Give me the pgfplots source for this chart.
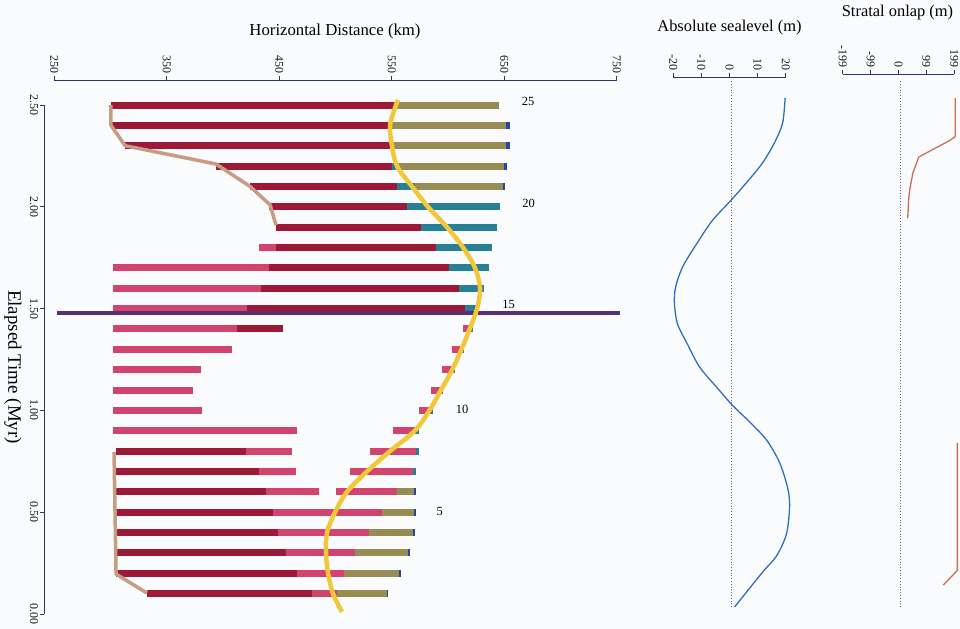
\documentclass[border=0pt]{standalone}
\usepackage{fontspec}
\setmainfont{Liberation Serif}
\usepackage{pgfplots}
\pgfplotsset{compat=1.18}
\usepackage{pgfplotstable}

\definecolor{bardark}{RGB}{158,24,56}
\definecolor{barpink}{RGB}{210,68,110}
\definecolor{barolive}{RGB}{150,140,84}
\definecolor{barteal}{RGB}{40,128,150}
\definecolor{barblue}{RGB}{38,70,160}
\definecolor{shoreline}{RGB}{198,156,130}
\definecolor{wave}{RGB}{242,200,58}
\definecolor{marker}{RGB}{88,46,118}
\definecolor{sealine}{RGB}{46,112,190}
\definecolor{onlapline}{RGB}{200,112,84}
\definecolor{axisblue}{RGB}{50,50,110}
\definecolor{zerodot}{RGB}{110,90,170}
\definecolor{paper}{RGB}{250,251,253}

% Bar pieces for each facies: start and end (km) at each time step (Myr),
% one piece per pair of rows, pieces separated by nan rows
\pgfplotstableread{
x t
300.4 2.5
553 2.5
nan nan
300.4 2.4
550 2.4
nan nan
313 2.3
551 2.3
nan nan
394 2.2
550 2.2
nan nan
424 2.1
555 2.1
nan nan
441 2.0
564 2.0
nan nan
447 1.9
576 1.9
nan nan
447 1.8
589 1.8
nan nan
441 1.7
601 1.7
nan nan
434 1.6
610 1.6
nan nan
421 1.5
615 1.5
nan nan
412 1.4
453 1.4
nan nan
305 0.8
420 0.8
nan nan
305 0.7
432 0.7
nan nan
305 0.6
438 0.6
nan nan
305 0.5
444 0.5
nan nan
305 0.4
449 0.4
nan nan
305 0.3
456 0.3
nan nan
305 0.2
466 0.2
nan nan
332 0.1
479 0.1
}\darkpieces

\pgfplotstableread{
x t
432 1.8
447 1.8
nan nan
302 1.7
441 1.7
nan nan
302 1.6
434 1.6
nan nan
302 1.5
421 1.5
nan nan
302 1.4
412 1.4
nan nan
613 1.4
618 1.4
nan nan
302 1.3
408 1.3
nan nan
604 1.3
611 1.3
nan nan
302 1.2
380 1.2
nan nan
595 1.2
603 1.2
nan nan
302 1.1
373 1.1
nan nan
585 1.1
593 1.1
nan nan
302 1.0
381 1.0
nan nan
574.5 1.0
583 1.0
nan nan
302 0.9
466 0.9
nan nan
551 0.9
571 0.9
nan nan
420 0.8
461 0.8
nan nan
531 0.8
572 0.8
nan nan
432 0.7
465 0.7
nan nan
513 0.7
569 0.7
nan nan
438 0.6
485 0.6
nan nan
500 0.6
555 0.6
nan nan
444 0.5
541 0.5
nan nan
449 0.4
530 0.4
nan nan
456 0.3
517 0.3
nan nan
466 0.2
507.5 0.2
nan nan
479 0.1
501 0.1
}\pinkpieces

\pgfplotstableread{
x t
553 2.5
645.4 2.5
nan nan
550 2.4
652 2.4
nan nan
551 2.3
652 2.3
nan nan
555 2.2
650 2.2
nan nan
571 2.1
649 2.1
nan nan
555 0.6
571 0.6
nan nan
541 0.5
571 0.5
nan nan
530 0.4
569 0.4
nan nan
517 0.3
565 0.3
nan nan
507.5 0.2
557 0.2
nan nan
501 0.1
546 0.1
}\olivepieces

\pgfplotstableread{
x t
550 2.2
555 2.2
nan nan
555 2.1
571 2.1
nan nan
564 2.0
646 2.0
nan nan
576 1.9
644 1.9
nan nan
589 1.8
639 1.8
nan nan
601 1.7
636.5 1.7
nan nan
610 1.6
632 1.6
nan nan
615 1.5
628 1.5
nan nan
618 1.4
622 1.4
nan nan
611 1.3
614 1.3
nan nan
603 1.2
606 1.2
nan nan
593 1.1
596 1.1
nan nan
583 1.0
587 1.0
nan nan
571 0.9
574 0.9
nan nan
572 0.8
574 0.8
nan nan
569 0.7
572 0.7
}\tealpieces

\pgfplotstableread{
x t
652 2.4
655 2.4
nan nan
652 2.3
655 2.3
nan nan
650 2.2
652.5 2.2
nan nan
649 2.1
651 2.1
nan nan
570 0.6
572 0.6
nan nan
570 0.5
572 0.5
nan nan
568.5 0.4
570.5 0.4
nan nan
564.5 0.3
566.5 0.3
nan nan
556.5 0.2
558 0.2
nan nan
545.5 0.1
547 0.1
}\bluepieces

\pgfplotsset{
  panel/.style={
    scale only axis, clip=false,
    axis x line*=top,
    tick align=outside, major tick length=4bp,
    axis line style={axisblue, line width=0.7bp},
    tick style={axisblue, line width=0.7bp},
    ticklabel style={font=\fontsize{12}{13}\selectfont, text=black!90, inner sep=2bp},
    xticklabel style={rotate=-90, anchor=east},
  },
}

\begin{document}
\begin{tikzpicture}
\useasboundingbox (0bp,0bp) rectangle (960bp,-629bp);
\fill[paper] (0bp,0bp) rectangle (960bp,-629bp);

% ---------------- distance panel ----------------
\begin{axis}[panel,
  at={(54.3bp,-614bp)}, anchor=south west,
  width=562.4bp, height=509bp,
  xmin=250, xmax=750, ymin=0, ymax=2.5,
  axis y line*=left,
  axis x line shift=25bp, axis y line shift=10bp,
  xtick={250,350,450,550,650,750},
  xticklabels={250,350,450,550,650,750},
  ytick={0,0.5,1,1.5,2,2.5},
  yticklabels={0.00,0.50,1.00,1.50,2.00,2.50},
  yticklabel style={rotate=-90, anchor=north},
]
\addplot[bardark, line width=7bp, unbounded coords=jump] table[x=x, y=t] {\darkpieces};
\addplot[barpink, line width=7bp, unbounded coords=jump] table[x=x, y=t] {\pinkpieces};
\addplot[barolive, line width=7bp, unbounded coords=jump] table[x=x, y=t] {\olivepieces};
\addplot[barteal, line width=7bp, unbounded coords=jump] table[x=x, y=t] {\tealpieces};
\addplot[barblue, line width=7bp, unbounded coords=jump] table[x=x, y=t] {\bluepieces};

% marker line at 1.48 Myr
\addplot[marker, line width=3.2bp] coordinates {(252.4,1.478) (752.7,1.478)};

% shoreline trajectory
\addplot[shoreline, line width=3.5bp, line join=round] coordinates {
  (300.4,2.5) (300.4,2.40) (313,2.30) (393.8,2.21) (424,2.10) (441.8,2.01) (447.1,1.91)};
\addplot[shoreline, line width=3.5bp, line join=round] coordinates {
  (332.4,0.103) (304.9,0.196) (303.1,0.796)};

% depositional front
\addplot[wave, line width=4.5bp, smooth, tension=0.55] coordinates {
  (555.6,2.525) (553.8,2.5) (548.5,2.4) (550.2,2.3) (554.7,2.2) (568,2.1)
  (582.2,2.0) (599.1,1.9) (613.4,1.8) (624,1.7) (628.5,1.6) (625.9,1.5)
  (619.3,1.4) (612,1.3) (603.8,1.2) (593.8,1.1) (583.5,1.0) (570.5,0.9)
  (548.5,0.8) (528,0.7) (510.2,0.6) (499.6,0.5) (492.5,0.4) (491.6,0.3)
  (493.4,0.2) (497.8,0.1) (505.8,0.01)};

\node[font=\fontsize{12.5}{13}\selectfont] at (axis cs:671.2,2.517) {25};
\node[font=\fontsize{12.5}{13}\selectfont] at (axis cs:671.6,2.019) {20};
\node[font=\fontsize{12.5}{13}\selectfont] at (axis cs:654,1.518) {15};
\node[font=\fontsize{12.5}{13}\selectfont] at (axis cs:612.5,1.007) {10};
\node[font=\fontsize{12.5}{13}\selectfont] at (axis cs:592.7,0.506) {5};
\end{axis}

% ---------------- sea-level panel ----------------
\begin{axis}[panel,
  at={(673.3bp,-607bp)}, anchor=south west,
  width=112.4bp, height=509bp,
  xmin=-20, xmax=20, ymin=0, ymax=2.5,
  axis y line=none,
  axis x line shift=21bp,
  xtick={-20,-10,0,10,20},
  xticklabels={-20,-10,0,10,20},
]
\addplot[zerodot, line width=0.8bp, dotted] coordinates {(0.8,0) (0.8,2.588)};
\addplot[sealine, line width=1.3bp, smooth, tension=0.5] coordinates {
  (19.8,2.5) (18.9,2.377) (16.0,2.28) (11.7,2.18) (6.4,2.09) (0.7,2.0)
  (-6.0,1.90) (-11.4,1.79) (-16.7,1.67) (-19.2,1.57) (-19.6,1.49)
  (-18.5,1.39) (-15.3,1.30) (-10.7,1.18) (-4.6,1.08) (1.1,0.99)
  (7.1,0.91) (13.2,0.82) (17.8,0.71) (20.6,0.59) (21.4,0.50)
  (20.3,0.36) (16.7,0.25) (11.7,0.17) (1.8,0.0)};
\end{axis}

% ---------------- onlap panel ----------------
\begin{axis}[panel,
  at={(842.7bp,-607bp)}, anchor=south west,
  width=111.6bp, height=509bp,
  xmin=-199, xmax=199, ymin=0, ymax=2.5,
  axis y line=none,
  axis x line shift=24bp,
  xtick={-199,-99,0,99,199},
  xticklabels={-199,-99,0,99,199},
]
\addplot[zerodot, line width=0.8bp, dotted] coordinates {(5,0) (5,2.588)};
\addplot[onlapline, line width=1.3bp, line join=round] coordinates {
  (202,2.5) (202,2.31) (181,2.29) (72,2.21) (51,2.13) (40,2.05) (36,2.0) (33,1.91)};
\addplot[onlapline, line width=1.3bp, line join=round] coordinates {
  (210,0.806) (210,0.18) (160,0.108)};
\end{axis}

% ---------------- titles ----------------
\node[anchor=base, font=\fontsize{16.8}{18}\selectfont] at (335bp,-35bp) {Horizontal Distance (km)};
\node[anchor=base, font=\fontsize{16.5}{18}\selectfont] at (729.5bp,-31.7bp) {Absolute sealevel (m)};
\node[anchor=base, font=\fontsize{16.5}{18}\selectfont] at (897.5bp,-16.5bp) {Stratal onlap (m)};
\node[rotate=-90, font=\fontsize{19}{20}\selectfont] at (13bp,-367bp) {Elapsed Time (Myr)};
\end{tikzpicture}
\end{document}
